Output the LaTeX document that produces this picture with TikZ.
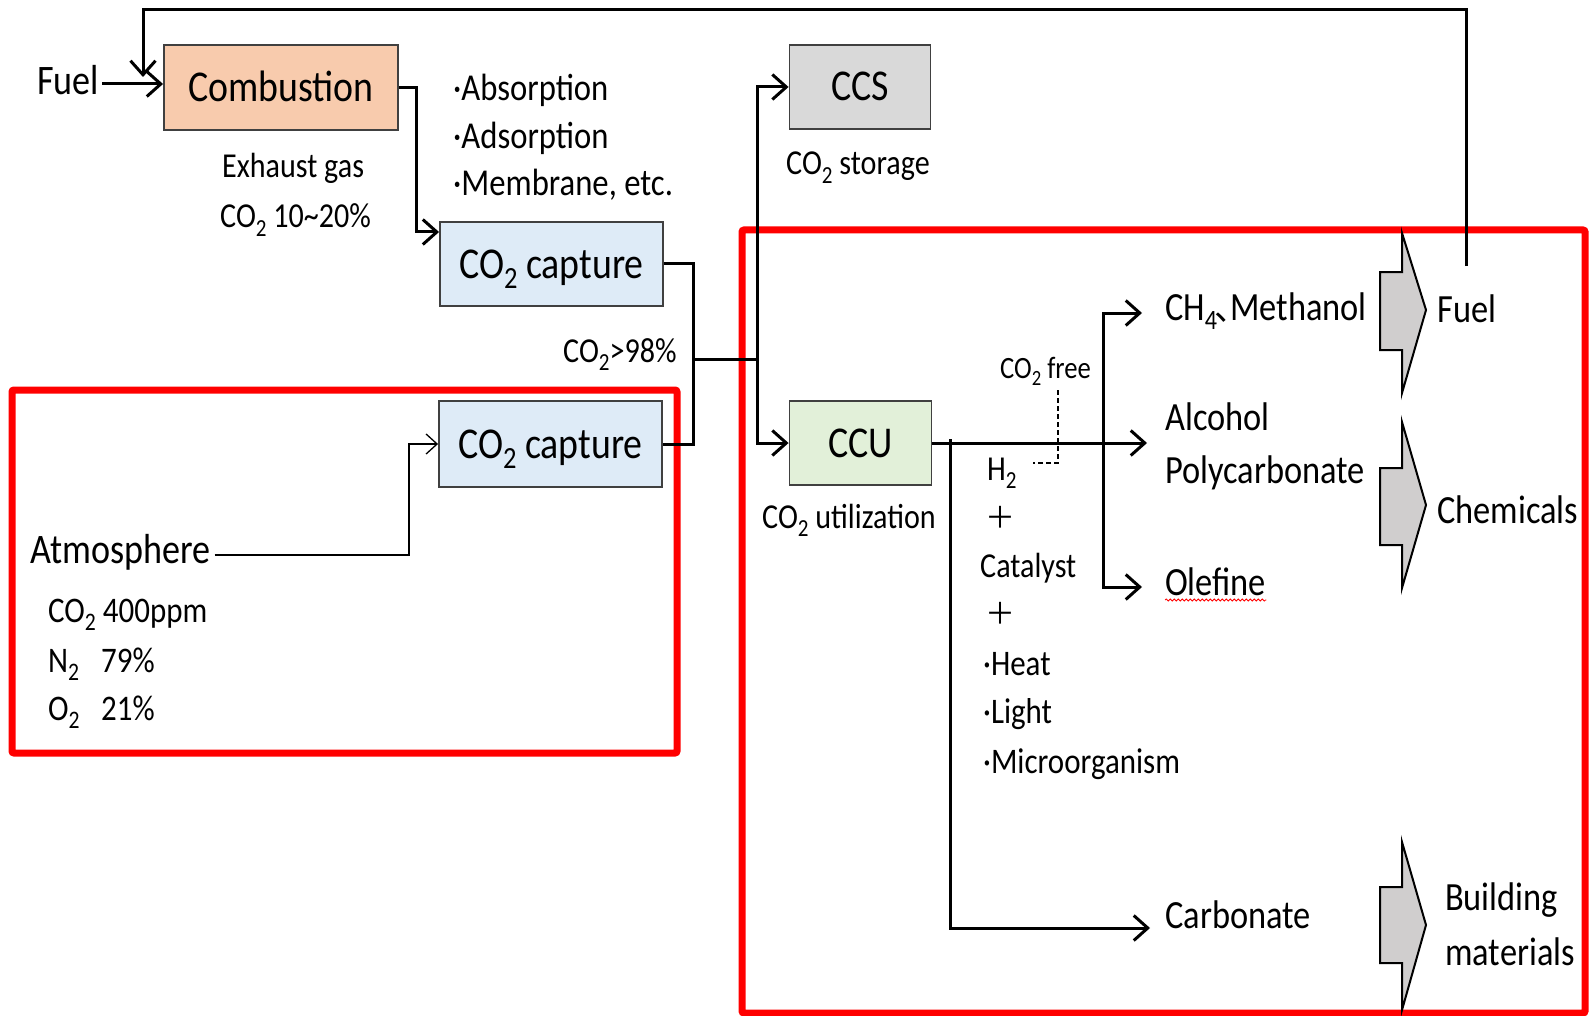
\documentclass[tikz,border=0pt]{standalone}
\usepackage{fontspec}
\usepackage{graphicx}
\setmainfont{Carlito}[FakeStretch=0.86]
\newfontfamily\jpfont{Noto Sans CJK JP}
\usetikzlibrary{arrows.meta,decorations.pathmorphing}
\newcommand\sbs[1]{\raisebox{-0.23em}{\scalebox{0.7}{#1}}}
\newcommand\fsz[1]{\fontsize{#1}{#1}\selectfont}
\definecolor{combfill}{HTML}{F8CBAD}
\definecolor{capfill}{HTML}{DEEBF7}
\definecolor{ccsfill}{HTML}{D9D9D9}
\definecolor{ccufill}{HTML}{E2F0D9}
\definecolor{arrgray}{HTML}{D0CECE}
\tikzset{
  box/.style={draw=black!75, line width=1.9pt, inner sep=0pt, font={\fsz{44}}, text height=28pt, text depth=0pt},
  lbl/.style={inner sep=0pt, anchor=base west},
  conn/.style={line width=3pt, line join=miter},
  arr/.style={conn, -{Straight Barb[length=14pt,width=25pt]}},
  tarr/.style={line width=1.3pt, -{Straight Barb[length=11pt,width=20pt]}},
  redbox/.style={draw=red, line width=7pt, rounded corners=2pt},
  bigarr/.style={draw=black, line width=2pt, fill=arrgray, line join=miter},
}
\begin{document}
\begin{tikzpicture}[x=1pt,y=-1pt]
\useasboundingbox (0,0) rectangle (1589,1016);

% red frames
\draw[redbox] (12,390) rectangle (677,753);
\draw[redbox] (742,230) rectangle (1585,1013);

% boxes
\node[box, fill=combfill, minimum width=234pt, minimum height=85pt] (comb) at (281,87.5) {Combustion};
\node[box, fill=capfill, minimum width=223pt, minimum height=84pt] (cap1) at (551.5,264) {CO\sbs{2} capture};
\node[box, fill=capfill, minimum width=223pt, minimum height=86pt] (cap2) at (550.5,444) {CO\sbs{2} capture};
\node[box, fill=ccsfill, minimum width=141pt, minimum height=84pt] (ccs) at (860,87) {CCS};
\node[box, fill=ccufill, minimum width=142pt, minimum height=84pt] (ccu) at (860.5,443) {CCU};

% labels
\node[lbl, font={\fsz{42}}] (fuelL) at (37,95) {Fuel};
\node[lbl, font={\fsz{35}}] (exh) at (222,178) {Exhaust gas};
\node[lbl, font={\fsz{35}}] (exhco) at (220,228) {CO\sbs{2} 10\textasciitilde 20\%};
\node[lbl, font={\fsz{38}}] (abs1) at (453,101) {·Absorption};
\node[lbl, font={\fsz{38}}] (abs2) at (453,149) {·Adsorption};
\node[lbl, font={\fsz{38}}] (abs3) at (453,196) {·Membrane, etc.};
\node[lbl, font={\fsz{35}}] (c98) at (563,362) {CO\sbs{2}>98\%};
\node[lbl, font={\fsz{35}}] (ccsl) at (786,175) {CO\sbs{2} storage};
\node[lbl, font={\fsz{35}}] (ccul) at (762,528) {CO\sbs{2} utilization};
\node[lbl, font={\fsz{31}}] (free) at (1000,378) {CO\sbs{2} free};
\node[lbl, font={\fsz{35}}] (h2) at (987,480) {H\sbs{2}};
\node[inner sep=0pt, font={\jpfont\fsz{30}}] (plus1) at (1000,517) {＋};
\node[lbl, font={\fsz{35}}] (cat) at (980,577) {Catalyst};
\node[inner sep=0pt, font={\jpfont\fsz{30}}] (plus2) at (1000,613) {＋};
\node[lbl, font={\fsz{36}}] (heat) at (983,675) {·Heat};
\node[lbl, font={\fsz{36}}] (light) at (983,723) {·Light};
\node[lbl, font={\fsz{36}}] (micro) at (983,773) {·Microorganism};

\node[lbl, font={\fsz{40}}] (ch4) at (1165,320) {CH\sbs{4}\makebox[13pt][l]{\hspace{-3pt}{\jpfont\fsz{34}、}}Methanol};
\node[lbl, font={\fsz{40}}] (alc) at (1165,430) {Alcohol};
\node[lbl, font={\fsz{40}}] (poly) at (1165,483) {Polycarbonate};
\node[lbl, font={\fsz{40}}] (olef) at (1165,595) {Olefine};
\node[lbl, font={\fsz{40}}] (carb) at (1165,928) {Carbonate};

\node[lbl, font={\fsz{40}}] (fuelR) at (1437,322) {Fuel};
\node[lbl, font={\fsz{40}}] (chem) at (1437,523) {Chemicals};
\node[lbl, font={\fsz{40}}] (build) at (1445,910) {Building};
\node[lbl, font={\fsz{40}}] (mat) at (1445,965) {materials};

\node[lbl, font={\fsz{42}}] (atm) at (30,563) {Atmosphere};
\node[lbl, font={\fsz{36}}] (atm1) at (48,622) {CO\sbs{2} 400ppm};
\node[lbl, font={\fsz{36}}] (atm2) at (48,672) {\makebox[53pt][l]{N\sbs{2}}79\%};
\node[lbl, font={\fsz{36}}] (atm3) at (48,720) {\makebox[53pt][l]{O\sbs{2}}21\%};

% spell-check underline
\draw[red, line width=0.8pt, decorate, decoration={snake, segment length=4pt, amplitude=1pt}]
  ([yshift=-5pt]olef.base west) -- ([yshift=-5pt]olef.base east);

% connectors
\coordinate (fuelS) at (102,84);
\draw[arr] (fuelS) -- (fuelS -| comb.west);
\coordinate (fbTop) at (143,10);
\coordinate (fbEnd) at (143,77);
\draw[arr] ([yshift=28pt]fuelR.north) |- (fbTop) -- (fbEnd);
\coordinate (c1) at (416,232);
\draw[arr] (comb.east) -| (c1) -- (c1 -| cap1.west);
\coordinate (m1) at (693,359);
\coordinate (m2) at (757,359);
\draw[conn] (cap1.east) -| (m1) |- (cap2.east);
\draw[conn] (m1) -- (m2);
\draw[arr] (m2) |- (ccs.west);
\draw[arr] (m2) |- (ccu.west);
\coordinate (a1) at (409,555);
\draw[tarr] ([xshift=4pt]atm.east |- a1) -- (a1) |- (cap2.west);

\coordinate (tipA) at (1147,443);
\draw[arr] (ccu.east) -- (tipA);
\coordinate (br) at (1103,443);
\coordinate (tipM) at (1142,313);
\coordinate (tipO) at (1142,587);
\draw[arr] (br) |- (tipM);
\draw[arr] (br) |- (tipO);
\coordinate (dn) at (950,443);
\coordinate (tipC) at (1150,928);
\draw[arr] ([yshift=4pt]dn) |- (tipC);
\coordinate (d1) at (1058,390);
\coordinate (d2) at (1033,463);
\draw[line width=1.2pt, dash pattern=on 5pt off 3pt] (d1) |- (d2);

% block arrows
\draw[bigarr] (1380,272) -- (1402,272) -- (1402,233) -- (1426,310) -- (1402,393) -- (1402,350) -- (1380,350) -- cycle;
\draw[bigarr] (1380,468) -- (1402,468) -- (1402,422) -- (1426,505) -- (1402,588) -- (1402,545) -- (1380,545) -- cycle;
\draw[bigarr] (1380,887) -- (1402,887) -- (1402,842) -- (1426,925) -- (1402,1010) -- (1402,963) -- (1380,963) -- cycle;
\end{tikzpicture}
\end{document}
